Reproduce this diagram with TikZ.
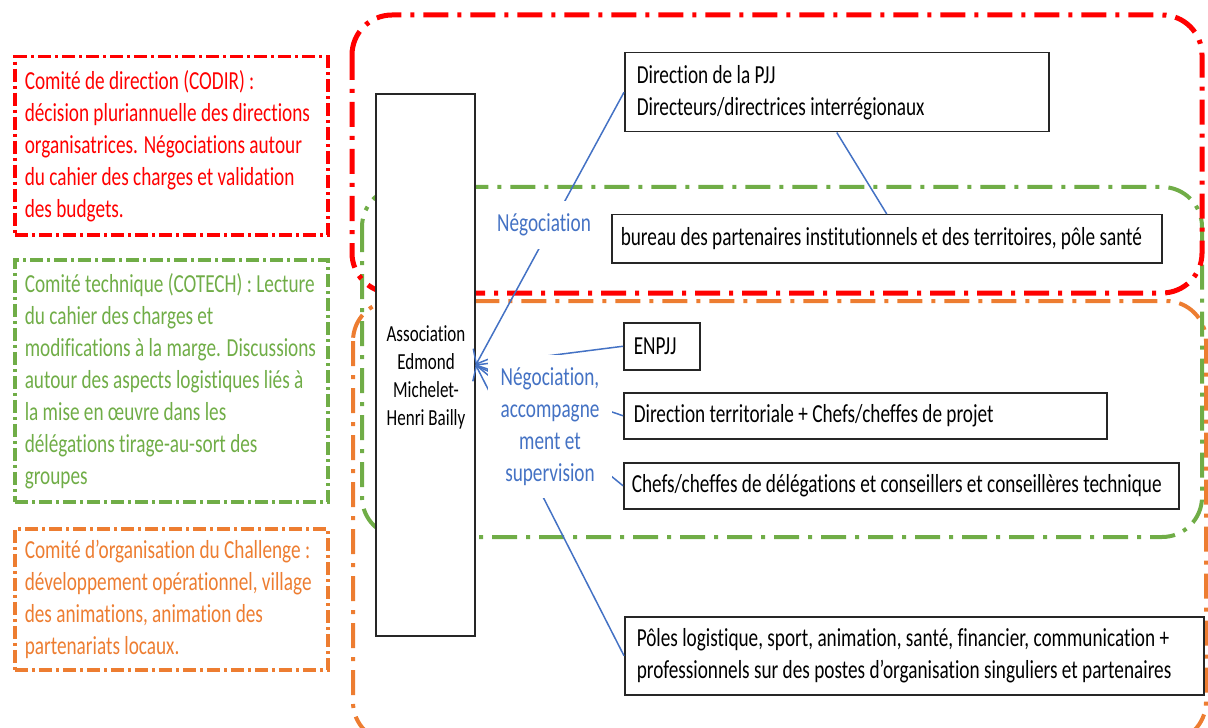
\documentclass[tikz,border=0pt]{standalone}
\usepackage{fontspec}
\setmainfont{Carlito}[FakeStretch=0.74,Ligatures=NoCommon]
\usepackage{tikz}
\usetikzlibrary{arrows.meta}

\definecolor{codirred}{HTML}{FF0000}
\definecolor{cotechgreen}{HTML}{70AD47}
\definecolor{orgaorange}{HTML}{ED7D31}
\definecolor{linkblue}{HTML}{4472C4}

\begin{document}
\begin{tikzpicture}[x=0.5pt,y=-0.5pt,>={Straight Barb[length=6pt,width=10pt]}]
				\tikzstyle{every node}=[font=\fontsize{13pt}{16pt}\selectfont]
				\tikzstyle{zone}=[line width=2pt,rounded corners=20pt,dash pattern=on 12.5pt off 4.5pt on 2pt off 4.5pt]
				\tikzstyle{comite}=[line width=1.75pt,dash pattern=on 6.5pt off 2pt on 1.5pt off 2pt,anchor=north west,align=flush left,inner xsep=5pt,text width=146.5pt]
				\tikzstyle{acteur}=[draw=black!85,line width=0.75pt,fill=white,anchor=north west,align=flush left,inner xsep=5pt]
				\tikzstyle{lien}=[draw=linkblue,line width=0.75pt]
				\tikzstyle{etiquette}=[fill=white,text=linkblue,align=center,inner sep=0pt]
				
				\useasboundingbox (0,0) rectangle (1208,727);
				
				% zones
				\draw[zone,orgaorange] (353,301) rectangle (1206,742);
				\draw[zone,cotechgreen] (362,187) rectangle (1202,537);
				\draw[zone,codirred,line width=2.5pt] (352,15) rectangle (1202,293);
				
				% comites
				\node[comite,draw=codirred,text=codirred,minimum height=89pt] (codir) at (13,55)
				{Comité de direction (CODIR) :\\ décision pluriannuelle des directions\\ organisatrices. Négociations autour\\ du cahier des charges et validation\\ des budgets.};
				\node[comite,draw=cotechgreen,text=cotechgreen,minimum height=121pt] (cotech) at (13,258)
				{Comité technique (COTECH) : Lecture\\ du cahier des charges et\\ modifications à la marge. Discussions\\ autour des aspects logistiques liés à\\ la mise en œuvre dans les\\ délégations tirage-au-sort des\\ groupes};
				\node[comite,draw=orgaorange,text=orgaorange,minimum height=70.5pt] (orga) at (13,527)
				{Comité d’organisation du Challenge :\\ développement opérationnel, village\\ des animations, animation des\\ partenariats locaux.};
				
				% acteurs
				\node[acteur,minimum width=49.5pt,minimum height=271pt,anchor=center] (assoc) at (425.5,365) {};
				\node[align=center,inner sep=0pt,font=\fontsize{11.5pt}{14pt}\selectfont] (assoctxt) at (426,377)
				{Association\\ Edmond\\ Michelet-\\ Henri Bailly};
				\node[acteur,inner xsep=6pt,text width=200pt,minimum height=39.5pt] (pjj) at (624,52)
				{Direction de la PJJ\\ Directeurs/directrices interrégionaux};
				\node[acteur,inner xsep=4.5pt,text width=266pt,minimum height=24pt] (bureau) at (611,214)
				{bureau des partenaires institutionnels et des territoires, pôle santé};
				\node[acteur,text width=28pt,minimum height=23.5pt] (enpjj) at (623,322) {ENPJJ};
				\node[acteur,text width=231.5pt,minimum height=23pt] (dirterr) at (623,392)
				{Direction territoriale + Chefs/cheffes de projet};
				\node[acteur,inner xsep=4pt,text width=269.5pt,minimum height=23pt] (chefs) at (623,462)
				{Chefs/cheffes de délégations et conseillers et conseillères technique};
				\node[acteur,inner xsep=6pt,text width=277.5pt,minimum height=39pt] (poles) at (624,616)
				{Pôles logistique, sport, animation, santé, financier, communication +\\ professionnels sur des postes d’organisation singuliers et partenaires};
				
				% liens
				\draw[lien,->] (pjj.west) -- (assoc.east);
				\draw[lien] (pjj.south) -- (bureau.north);
				\draw[lien] (enpjj.west) -- (assoc.east);
				\draw[lien] (dirterr.west) -- (assoc.east);
				\draw[lien] (chefs.west) -- (assoc.east);
				\draw[lien,->] (poles.west) -- (assoc.east);
				
				\node[etiquette,minimum width=55pt,minimum height=23.5pt] (nego) at (544,225) {Négociation};
				\node[etiquette,minimum width=62pt,minimum height=71.5pt] (negoaccomp) at (550,426.5)
				{Négociation,\\ accompagne\\ ment et\\ supervision};
\end{tikzpicture}
\end{document}
